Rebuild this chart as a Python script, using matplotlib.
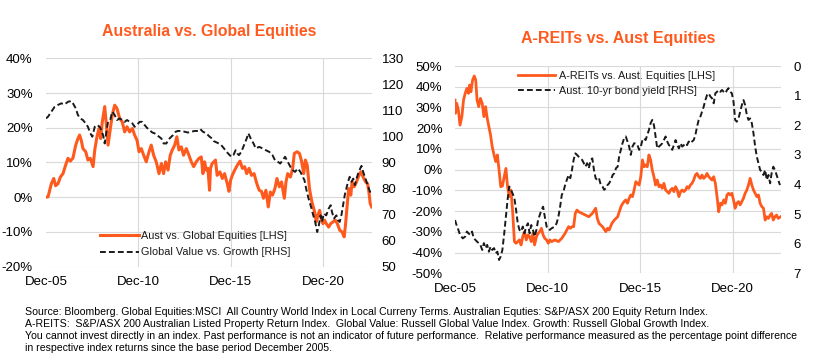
import matplotlib
matplotlib.use("Agg")
import matplotlib.pyplot as plt
import matplotlib.font_manager as fm

# time axis is years since Dec-2005
aus_t = [0.00, 0.11, 0.29, 0.42, 0.52, 0.65, 0.78, 0.92, 1.06, 1.19, 1.32, 1.46, 1.61, 1.73, 1.82,
         1.91, 2.00, 2.15, 2.27, 2.40, 2.55, 2.64, 2.76, 2.87, 2.96, 3.05, 3.18, 3.27, 3.36, 3.45,
         3.59, 3.72, 3.84, 3.99, 4.13, 4.26, 4.39, 4.53, 4.68, 4.80, 4.93, 5.04, 5.16, 5.29, 5.43,
         5.58, 5.70, 5.83, 5.97, 6.12, 6.25, 6.37, 6.48, 6.61, 6.73, 6.84, 6.97, 7.09, 7.20, 7.33,
         7.45, 7.60, 7.74, 7.87, 8.00, 8.14, 8.29, 8.41, 8.50, 8.59, 8.68, 8.77, 8.86, 8.91, 9.00,
         9.09, 9.18, 9.27, 9.42, 9.55, 9.67, 9.82, 9.91, 10.00, 10.09, 10.22, 10.36, 10.51, 10.64,
         10.76, 10.87, 11.00, 11.13, 11.27, 11.42, 11.55, 11.67, 11.78, 11.91, 12.04, 12.15, 12.27,
         12.40, 12.51, 12.64, 12.76, 12.91, 13.00, 13.09, 13.24, 13.36, 13.45, 13.60, 13.73, 13.85,
         13.96, 14.05, 14.15, 14.27, 14.40, 14.55, 14.64, 14.73, 14.82, 14.91, 15.00, 15.09, 15.18,
         15.31, 15.42, 15.55, 15.67, 15.78, 15.91, 16.04, 16.15, 16.22, 16.33, 16.40, 16.51, 16.58,
         16.69, 16.82, 16.95, 17.05, 17.18, 17.31, 17.42, 17.49, 17.56, 17.64]
aus_rel = [0.0, 0.1, 3.9, 5.4, 3.3, 3.9, 5.8, 6.8, 9.2, 11.2, 10.4, 11.3, 15.0, 16.9, 17.9,
           16.4, 14.0, 13.1, 10.7, 11.2, 8.8, 13.6, 17.4, 19.8, 16.9, 21.7, 26.1, 20.8, 15.0, 18.4,
           23.7, 26.5, 25.6, 22.7, 21.7, 18.8, 20.3, 18.8, 19.8, 17.9, 16.4, 13.1, 14.0, 12.1, 10.2,
           13.1, 15.0, 12.1, 10.2, 6.8, 9.7, 6.8, 10.2, 7.8, 12.1, 13.6, 15.0, 17.4, 13.6, 14.5,
           12.1, 14.0, 12.1, 10.2, 8.8, 10.2, 11.2, 11.6, 6.8, 10.2, 7.8, 8.3, 2.0, 8.3, 9.7,
           10.2, 10.7, 6.3, 7.3, 5.4, 6.8, 3.9, 1.7, 4.9, 6.3, 7.8, 9.2, 10.4, 8.3,
           8.8, 6.8, 8.3, 6.3, 6.8, 3.9, 2.0, 1.7, -0.3, 2.0, -2.8, 1.5, 0.6,
           2.5, 5.4, 3.0, 4.4, -0.3, 4.4, 6.8, 5.8, 8.3, 12.6, 13.1, 12.6, 10.2,
           6.8, 10.7, 9.2, 2.5, -1.3, -4.2, -7.1, -5.2, -3.8, -6.2, -7.6, -6.6, -7.6,
           -8.6, -7.6, -7.1, -6.6, -7.6, -9.5, -10.0, -11.4, -8.1, -1.3, 2.5, 0.6, 4.4,
           3.0, 4.4, 6.3, 7.3, 5.8, 4.4, 3.9, 1.5, -1.8, -2.8]

vg_t = [0.00, 0.11, 0.29, 0.47, 0.65, 0.83, 1.01, 1.19, 1.37, 1.46, 1.61, 1.73, 1.86, 2.00, 2.15,
        2.27, 2.40, 2.51, 2.64, 2.76, 2.91, 3.00, 3.09, 3.18, 3.27, 3.36, 3.48, 3.59, 3.72, 3.84,
        3.99, 4.13, 4.26, 4.39, 4.53, 4.68, 4.80, 4.93, 5.07, 5.22, 5.34, 5.47, 5.61, 5.76, 5.88,
        6.01, 6.12, 6.25, 6.37, 6.52, 6.61, 6.73, 6.88, 7.02, 7.15, 7.33, 7.51, 7.69, 7.87, 8.05,
        8.23, 8.36, 8.50, 8.68, 8.86, 9.00, 9.09, 9.24, 9.36, 9.49, 9.64, 9.78, 9.91, 10.04, 10.15,
        10.27, 10.36, 10.45, 10.58, 10.73, 10.87, 10.96, 11.09, 11.24, 11.36, 11.55, 11.73, 11.91,
        12.09, 12.27, 12.40, 12.55, 12.69, 12.82, 12.95, 13.09, 13.24, 13.36, 13.49, 13.64, 13.78,
        13.91, 14.00, 14.09, 14.22, 14.36, 14.45, 14.58, 14.69, 14.78, 14.87, 14.95, 15.05, 15.18,
        15.31, 15.42, 15.49, 15.60, 15.73, 15.82, 15.91, 16.00, 16.09, 16.18, 16.27, 16.36, 16.45,
        16.55, 16.64, 16.73, 16.82, 16.91, 17.02, 17.09, 17.18, 17.27, 17.36, 17.45, 17.55, 17.64]
vg_ratio = [106.9, 107.6, 109.5, 111.4, 112.1, 112.7, 112.3, 113.3, 113.6, 112.7, 110.8, 108.2, 106.9, 106.3, 105.0,
            103.7, 101.2, 99.9, 103.7, 104.4, 103.7, 102.4, 100.5, 97.3, 101.8, 105.6, 106.3, 109.5, 108.2, 106.3,
            106.9, 106.3, 105.6, 106.3, 105.6, 105.0, 103.7, 104.4, 105.6, 105.6, 104.4, 103.3, 102.4, 101.5, 101.2,
            100.5, 99.9, 99.2, 97.3, 97.3, 98.6, 99.5, 100.5, 101.8, 102.1, 102.1, 101.8, 101.5, 101.8, 102.1,
            102.1, 102.8, 101.8, 101.2, 99.9, 99.2, 98.2, 97.7, 97.3, 96.7, 95.4, 94.1, 93.1, 92.2, 92.8,
            94.7, 93.5, 92.8, 94.1, 96.7, 99.2, 101.2, 99.2, 97.3, 95.4, 96.0, 95.4, 94.7,
            94.1, 92.8, 90.9, 90.3, 89.6, 90.9, 92.2, 90.3, 88.3, 87.1, 86.4, 87.7, 86.4,
            84.5, 83.2, 80.0, 76.2, 72.9, 70.4, 67.2, 63.3, 65.9, 69.7, 67.2, 70.4, 69.7,
            72.3, 73.6, 71.0, 68.5, 69.7, 67.8, 67.2, 69.7, 73.6, 77.4, 80.0, 82.6, 84.5,
            82.6, 83.8, 81.3, 83.8, 85.8, 87.7, 88.7, 86.4, 84.5, 82.6, 80.6, 78.7, 80.0]

reit_t = [0.00, 0.02, 0.09, 0.18, 0.27, 0.37, 0.46, 0.55, 0.64, 0.73, 0.79, 0.86, 0.95, 1.04, 1.12,
          1.19, 1.28, 1.37, 1.47, 1.56, 1.65, 1.74, 1.83, 1.92, 2.01, 2.11, 2.20, 2.29, 2.38, 2.47,
          2.56, 2.66, 2.75, 2.84, 2.93, 3.02, 3.11, 3.21, 3.30, 3.39, 3.48, 3.57, 3.66, 3.75, 3.85,
          3.94, 4.03, 4.12, 4.21, 4.30, 4.40, 4.49, 4.58, 4.67, 4.76, 4.85, 4.95, 5.04, 5.13, 5.22,
          5.40, 5.59, 5.77, 5.95, 6.04, 6.14, 6.23, 6.32, 6.41, 6.50, 6.59, 6.68, 6.87, 7.05, 7.23,
          7.42, 7.60, 7.69, 7.78, 7.97, 8.15, 8.24, 8.33, 8.48, 8.61, 8.79, 8.97, 9.07, 9.14, 9.23,
          9.32, 9.41, 9.50, 9.59, 9.68, 9.77, 9.86, 9.95, 10.04, 10.13, 10.22, 10.30, 10.39, 10.48,
          10.57, 10.66, 10.75, 10.84, 10.93, 11.02, 11.11, 11.20, 11.29, 11.38, 11.47, 11.56, 11.65,
          11.74, 11.83, 11.92, 12.01, 12.10, 12.19, 12.28, 12.37, 12.46, 12.54, 12.63, 12.72, 12.81,
          12.90, 12.99, 13.08, 13.17, 13.26, 13.35, 13.44, 13.53, 13.62, 13.71, 13.80, 13.89, 13.98,
          14.07, 14.16, 14.25, 14.34, 14.43, 14.52, 14.61, 14.70, 14.78, 14.87, 14.96, 15.05, 15.14,
          15.23, 15.32, 15.41, 15.50, 15.59, 15.68, 15.77, 15.86, 15.95, 16.04, 16.13, 16.22, 16.31,
          16.40, 16.49, 16.58, 16.67, 16.76, 16.85, 16.94, 17.03, 17.11, 17.20, 17.29, 17.38, 17.47, 17.60]
reit_rel = [33.6, 27.2, 32.0, 28.8, 21.5, 25.6, 33.6, 36.8, 39.2, 36.8, 40.8, 37.6, 43.2, 45.2, 43.2,
            33.6, 30.4, 34.4, 32.0, 25.6, 30.4, 24.8, 20.7, 16.7, 11.1, 7.1, 3.9, 7.1, -0.2, -8.2,
            -7.9, -3.4, 0.6, -8.2, -13.0, -9.8, -19.5, -34.7, -35.5, -34.7, -33.9, -36.3, -32.3, -29.9, -33.9,
            -31.5, -32.3, -34.7, -30.7, -36.3, -32.3, -30.7, -29.9, -28.3, -31.5, -33.1, -33.9, -35.5, -33.9, -34.7,
            -33.9, -34.7, -33.1, -30.7, -29.1, -27.5, -28.3, -27.5, -27.5, -21.1, -19.5, -20.3, -21.1, -21.9, -22.7,
            -21.1, -18.6, -23.5, -25.9, -27.5, -29.9, -28.3, -29.1, -25.9, -24.3, -22.7, -17.8, -16.2, -15.4, -14.6,
            -16.2, -13.8, -12.2, -13.0, -9.8, -5.8, -6.6, -7.4, -3.4, 4.7, 1.4, 2.3, 1.4, 7.1,
            4.7, -0.2, -3.4, -7.4, -5.0, -8.2, -7.4, -9.0, -6.6, -9.8, -10.6, -11.4, -9.8,
            -9.0, -10.6, -8.2, -9.8, -13.0, -10.6, -9.8, -10.6, -9.8, -8.2, -9.0, -7.4, -6.6,
            -5.0, -2.6, -1.8, -3.4, -4.2, -2.6, -4.2, -3.4, -1.8, -3.4, -4.2, -5.0, -3.4,
            -6.6, -13.0, -20.3, -16.2, -17.0, -14.6, -16.2, -12.2, -11.4, -12.2, -11.4, -14.6, -18.6,
            -16.2, -15.4, -17.0, -15.4, -13.8, -11.4, -9.8, -7.4, -4.2, -7.4, -9.8, -11.4, -13.0,
            -12.2, -16.2, -17.8, -18.6, -24.3, -22.7, -23.5, -21.9, -21.1, -24.3, -22.7, -21.9, -23.5, -22.7]

bond_t = [0.00, 0.05, 0.18, 0.27, 0.42, 0.55, 0.64, 0.73, 0.82, 0.92, 1.01, 1.10, 1.19, 1.28, 1.37,
          1.47, 1.56, 1.65, 1.74, 1.83, 1.92, 2.01, 2.11, 2.20, 2.29, 2.38, 2.47, 2.56, 2.66, 2.75,
          2.84, 2.93, 3.02, 3.11, 3.21, 3.30, 3.39, 3.48, 3.57, 3.66, 3.75, 3.85, 3.94, 4.03, 4.12,
          4.21, 4.30, 4.40, 4.49, 4.58, 4.67, 4.76, 4.85, 4.95, 5.04, 5.13, 5.22, 5.40, 5.49, 5.59,
          5.68, 5.77, 5.86, 5.95, 6.04, 6.14, 6.23, 6.32, 6.41, 6.50, 6.59, 6.68, 6.78, 6.87, 6.96,
          7.05, 7.14, 7.23, 7.33, 7.42, 7.51, 7.60, 7.69, 7.78, 7.88, 7.97, 8.06, 8.15, 8.24, 8.33,
          8.42, 8.52, 8.61, 8.70, 8.79, 8.87, 8.96, 9.05, 9.14, 9.23, 9.32, 9.41, 9.50, 9.59, 9.68,
          9.77, 9.86, 9.95, 10.04, 10.13, 10.22, 10.30, 10.39, 10.48, 10.57, 10.66, 10.75, 10.84,
          10.93, 11.02, 11.11, 11.20, 11.29, 11.38, 11.47, 11.56, 11.65, 11.74, 11.83, 11.92, 12.01,
          12.10, 12.19, 12.28, 12.37, 12.46, 12.54, 12.63, 12.72, 12.81, 12.90, 12.99, 13.08, 13.17,
          13.26, 13.35, 13.44, 13.53, 13.62, 13.71, 13.80, 13.89, 13.98, 14.07, 14.16, 14.25, 14.34,
          14.43, 14.52, 14.61, 14.70, 14.78, 14.87, 14.96, 15.05, 15.14, 15.23, 15.32, 15.41, 15.50,
          15.59, 15.68, 15.77, 15.86, 15.95, 16.04, 16.13, 16.22, 16.31, 16.40, 16.49, 16.58, 16.67,
          16.76, 16.85, 16.94, 17.03, 17.11, 17.20, 17.29, 17.38, 17.47, 17.56]
bond_yield = [5.20, 5.31, 5.53, 5.70, 5.82, 5.76, 5.59, 5.65, 5.70, 5.59, 5.82, 5.87, 5.93, 5.98, 6.04,
              6.21, 5.98, 6.15, 6.04, 6.27, 6.10, 6.21, 6.15, 6.32, 6.27, 6.55, 6.43, 6.21, 5.65, 5.08,
              4.52, 4.07, 4.18, 4.30, 4.47, 4.86, 5.31, 5.53, 5.59, 5.42, 5.65, 5.42, 5.31, 5.65, 5.37,
              5.53, 5.76, 5.53, 5.20, 5.03, 4.86, 4.75, 5.08, 5.42, 5.53, 5.53, 5.48, 5.42, 5.31, 5.08,
              4.75, 4.35, 4.24, 4.02, 3.85, 3.68, 3.79, 3.51, 3.17, 2.95, 3.00, 3.06, 3.12, 3.17, 3.28,
              3.40, 3.28, 3.45, 3.17, 3.12, 3.51, 3.79, 3.85, 3.79, 4.02, 4.07, 4.18, 4.13, 4.02, 3.96,
              3.85, 3.68, 3.62, 3.45, 3.40, 3.06, 2.83, 2.61, 2.44, 2.38, 2.55, 2.72, 3.00, 2.72, 2.61,
              2.61, 2.67, 2.83, 2.72, 2.50, 2.44, 2.50, 2.33, 2.16, 1.93, 1.82, 1.99, 2.38,
              2.78, 2.72, 2.67, 2.61, 2.50, 2.38, 2.55, 2.67, 2.72, 2.83, 2.67, 2.50, 2.67,
              2.78, 2.61, 2.72, 2.67, 2.61, 2.67, 2.55, 2.61, 2.55, 2.50, 2.33, 2.05, 1.82,
              1.71, 1.54, 1.37, 1.15, 0.98, 0.92, 1.03, 1.09, 1.26, 0.92, 0.87, 0.81, 0.87,
              0.81, 0.87, 0.92, 0.81, 0.75, 0.87, 0.92, 1.20, 1.82, 1.88, 1.77, 1.54, 1.32,
              1.15, 1.32, 1.65, 1.82, 1.77, 1.93, 2.27, 2.72, 3.06, 3.28, 3.51, 3.57, 3.68,
              3.51, 3.85, 3.68, 3.96, 3.62, 3.40, 3.51, 3.68, 3.85, 4.02]

tick_pos = [0, 5, 10, 15]
tick_labels = ["Dec-05", "Dec-10", "Dec-15", "Dec-20"]

left_yticks = [-20, -10, 0, 10, 20, 30, 40]
left_rticks = [50, 60, 70, 80, 90, 100, 110, 120, 130]
right_yticks = [-50, -40, -30, -20, -10, 0, 10, 20, 30, 40, 50]
right_rticks = [0, 1, 2, 3, 4, 5, 6, 7]

notes = [
    "Source: Bloomberg. Global Equities:MSCI  All Country World Index in Local Curreny Terms. Australian Equties: S&P/ASX 200 Equity Return Index.",
    "A-REITS:  S&P/ASX 200 Australian Listed Property Return Index.  Global Value: Russell Global Value Index. Growth: Russell Global Growth Index.",
    "You cannot invest directly in an index. Past performance is not an indicator of future performance.  Relative performance measured as the percentage point difference",
    "in respective index returns since the base period December 2005.",
]

ORANGE = "#FF5A1E"
GRID = "#D9D9D9"
plt.rcParams["font.family"] = ["Liberation Sans", "DejaVu Sans"]

names = {f.name for f in fm.fontManager.ttflist}
note_font = "Liberation Sans Narrow" if "Liberation Sans Narrow" in names else "Liberation Sans"

fig = plt.figure(figsize=(8.2, 3.6), dpi=100)


def style(ax, tw, xmax, ylim, yticks, ylab, rlim, rticks, rlab, lpad, rpad):
    ax.set_xlim(0, xmax)
    ax.set_ylim(*ylim)
    ax.set_yticks(yticks)
    ax.set_yticklabels(ylab)
    ax.set_xticks(tick_pos)
    ax.set_xticklabels(tick_labels)
    ax.grid(True, color=GRID, linewidth=0.8)
    ax.set_axisbelow(True)
    ax.get_xgridlines()[0].set_visible(False)
    tw.set_ylim(*rlim)
    tw.set_yticks(rticks)
    tw.set_yticklabels(rlab)
    for a in (ax, tw):
        for s in a.spines.values():
            s.set_visible(False)
    ax.tick_params(axis="both", length=0, labelsize=9.5, colors="black")
    ax.tick_params(axis="x", pad=7)
    ax.tick_params(axis="y", pad=lpad)
    tw.tick_params(axis="y", length=0, labelsize=9.5, pad=rpad, colors="black")


# left chart
ax1 = fig.add_axes([0.0561, 0.2592, 0.3976, 0.5789])
tw1 = ax1.twinx()
l1, = ax1.plot(aus_t, aus_rel, color=ORANGE, lw=2.2, label="Aust vs. Global Equities [LHS]")
l2, = tw1.plot(vg_t, vg_ratio, color="#1a1a1a", lw=1.4, dashes=(3, 1.6), label="Global Value vs. Growth [RHS]")
style(ax1, tw1, 17.66, (-20, 40), left_yticks, [f"{v}%" for v in left_yticks],
      (50, 130), left_rticks, [str(v) for v in left_rticks], 9.5, 7)
tw1.legend(handles=[l1, l2], loc="upper left", bbox_to_anchor=(0.1215, 0.359), bbox_transform=fig.transFigure,
           frameon=False, fontsize=7.8, handlelength=3.6, handletextpad=0.25, labelspacing=0.62,
           borderpad=0, borderaxespad=0, labelcolor="#1a1a1a")
fig.text(0.255, 0.913, "Australia vs. Global Equities", color=ORANGE, fontsize=11.4,
         fontweight="bold", ha="center", va="center")

# right chart
ax2 = fig.add_axes([0.5549, 0.2408, 0.3976, 0.5758])
tw2 = ax2.twinx()
r1, = ax2.plot(reit_t, reit_rel, color=ORANGE, lw=2.0, label="A-REITs vs. Aust. Equities [LHS]")
r2, = tw2.plot(bond_t, bond_yield, color="#1a1a1a", lw=1.4, dashes=(3, 1.6), label="Aust. 10-yr bond yield [RHS]")
style(ax2, tw2, 17.62, (-50, 50), right_yticks, [f"{v}%" for v in right_yticks],
      (7, 0), right_rticks, [str(v) for v in right_rticks], 9, 9)
tw2.legend(handles=[r1, r2], loc="upper left", bbox_to_anchor=(0.632, 0.8037), bbox_transform=fig.transFigure,
           frameon=False, fontsize=7.8, handlelength=3.4, handletextpad=0.4, labelspacing=0.5,
           borderpad=0, borderaxespad=0, labelcolor="#1a1a1a")
fig.text(0.754, 0.894, "A-REITs vs. Aust Equities", color=ORANGE, fontsize=11.5,
         fontweight="bold", ha="center", va="center")

# footnote
for i, line in enumerate(notes):
    fig.text(0.031, 1 - (312 + 12.1 * i) / 360, line, fontsize=7.6, family=note_font,
             color="black", ha="left", va="center")

fig.savefig("out.png", dpi=100)
